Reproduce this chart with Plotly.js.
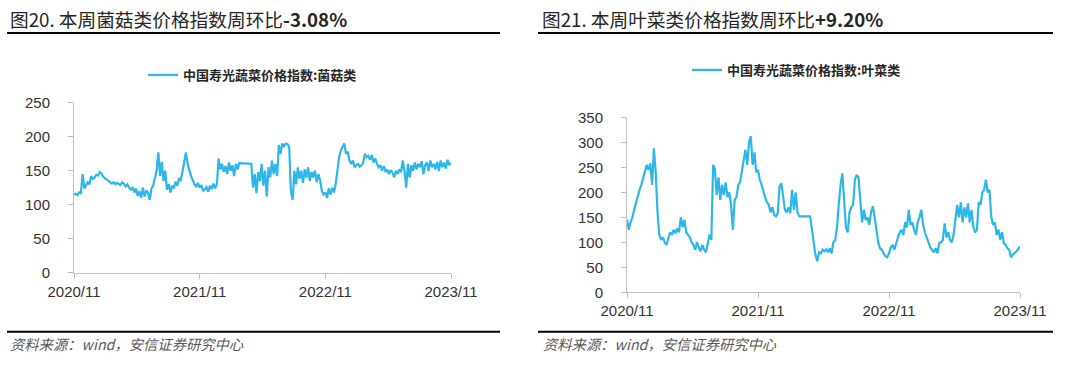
<!DOCTYPE html>
<html>
<head>
<meta charset="utf-8">
<script src="https://cdn.plot.ly/plotly-3.0.1.min.js"></script>
<style>
html,body{margin:0;padding:0;background:#fff;}
#chart{width:1080px;height:366px;}
</style>
</head>
<body>
<div id="chart"></div>
<script>
// ---- data ----
const startDate = '2020-11-01';
const stepDays = 5;
const mushroomValues = [
  115,116,114,118,117,145,124,128,133,130,
  142,138,140,144,143,148,146,141,139,136,
  134,133,131,133,130,132,131,129,133,131,
  127,130,125,122,126,118,124,113,120,110,
  125,112,121,118,107,124,128,140,150,177,
  142,163,135,150,122,130,118,128,124,134,
  128,138,136,148,160,177,160,150,142,136,
  130,127,132,125,129,120,124,126,119,128,
  123,131,124,130,168,152,160,148,157,145,
  162,150,158,142,160,152,161,161,161,161,
  161,161,161,160,125,145,117,148,135,160,
  128,150,112,155,140,165,145,160,142,188,
  175,190,186,190,189,185,120,107,150,130,
  155,138,150,132,152,140,155,135,148,140,
  150,133,145,136,120,115,118,110,124,115,
  125,118,130,150,170,180,185,190,175,178,
  165,160,165,155,158,160,156,158,162,175,
  170,172,166,173,162,168,160,155,158,150,
  157,148,152,145,151,147,140,150,145,152,
  148,165,150,125,160,140,158,150,162,152,
  160,155,164,145,158,162,150,165,155,160,
  152,163,150,165,155,162,153,166,158,162
];
const leafyValues = [
  145,125,140,150,165,180,190,205,215,230,
  240,255,245,258,215,288,240,160,115,105,
  110,100,95,108,120,115,125,118,128,120,
  150,130,145,120,115,110,100,95,85,100,
  90,82,95,85,80,100,115,105,255,245,
  195,230,185,215,195,220,190,200,175,125,
  185,190,215,220,245,270,285,255,300,312,
  255,280,240,245,225,215,200,190,180,175,
  160,170,155,152,158,212,218,195,165,160,
  170,158,205,165,200,160,152,152,152,152,
  152,152,152,128,105,75,62,80,78,85,
  82,86,80,88,78,100,104,130,175,215,
  238,170,130,120,160,170,175,225,235,230,
  175,140,165,145,150,135,160,172,150,120,
  100,88,85,78,72,70,78,90,95,85,
  100,110,120,125,115,140,130,165,135,140,
  125,115,140,150,165,135,120,110,98,90,
  85,80,88,78,98,100,105,138,110,120,
  105,100,115,150,175,150,180,140,170,150,
  178,140,165,130,120,125,180,175,200,205,
  225,200,205,150,135,140,115,125,105,120,
  98,95,88,85,70,75,78,82,86,92
];
const tickDates = ['2020-11-01','2021-11-01','2022-11-01','2023-11-01'];
const tickLabels = ['2020/11','2021/11','2022/11','2023/11'];
const mushroomName = '中国寿光蔬菜价格指数:菌菇类';
const leafyName = '中国寿光蔬菜价格指数:叶菜类';
const title1 = '图20. 本周菌菇类价格指数周环比';
const change1 = '-3.08%';
const title2 = '图21. 本周叶菜类价格指数周环比';
const change2 = '+9.20%';
const sourceText = '资料来源：wind，安信证券研究中心';

// ---- build dates ----
function buildDates(n){
  const out=[]; const base=new Date(startDate+'T00:00:00Z');
  for(let i=0;i<n;i++){
    const d=new Date(base.getTime()+i*stepDays*86400000);
    out.push(d.toISOString().slice(0,10));
  }
  return out;
}

const lineColor = '#2DB7E8';
const cjk = '"Noto Sans CJK SC", "Liberation Sans", sans-serif';
const num = '"Liberation Sans", Arial, sans-serif';

const traces = [
  {x: buildDates(mushroomValues.length), y: mushroomValues, type:'scatter', mode:'lines',
   name: mushroomName, line:{color:lineColor, width:2.2}, xaxis:'x', yaxis:'y', legend:'legend'},
  {x: buildDates(leafyValues.length), y: leafyValues, type:'scatter', mode:'lines',
   name: leafyName, line:{color:lineColor, width:2.2}, xaxis:'x2', yaxis:'y2', legend:'legend2'}
];

const W=1080, H=366;
const axisCommon = {
  showgrid:false, zeroline:false, showline:true, linecolor:'#bfbfbf', linewidth:1,
  ticks:'outside', ticklen:5, tickcolor:'#bfbfbf', tickwidth:1,
  tickfont:{family:num, size:15, color:'#333333'}
};

const layout = {
  width:W, height:H, margin:{l:0,r:0,t:0,b:0},
  paper_bgcolor:'#fff', plot_bgcolor:'#fff', showlegend:true,
  xaxis: Object.assign({}, axisCommon, {domain:[74/W, 451/W], type:'date',
    range:['2020-11-01','2023-11-01'], tickvals:tickDates, ticktext:tickLabels, anchor:'y'}),
  yaxis: Object.assign({}, axisCommon, {domain:[1-272.7/H, 1-102.7/H], range:[0,250], dtick:50, anchor:'x', ticklabelstandoff:15}),
  xaxis2: Object.assign({}, axisCommon, {domain:[627/W, 1020/W], type:'date',
    range:['2020-11-01','2023-11-01'], tickvals:tickDates, ticktext:tickLabels, anchor:'y2'}),
  yaxis2: Object.assign({}, axisCommon, {domain:[1-292.3/H, 1-117.3/H], range:[0,350], dtick:50, anchor:'x2', ticklabelstandoff:15}),
  legend: {x:143/W, y:1-60/H, xanchor:'left', yanchor:'top', bgcolor:'rgba(0,0,0,0)',
    font:{family:cjk, size:13, color:'#262626', weight:'bold'}},
  legend2: {x:687/W, y:1-55/H, xanchor:'left', yanchor:'top', bgcolor:'rgba(0,0,0,0)',
    font:{family:cjk, size:13, color:'#262626', weight:'bold'}},
  shapes: [
    {type:'line', xref:'paper', yref:'paper', x0:7/W, x1:500/W, y0:1-33/H, y1:1-33/H, line:{color:'#000', width:2}},
    {type:'line', xref:'paper', yref:'paper', x0:538/W, x1:1053/W, y0:1-33/H, y1:1-33/H, line:{color:'#000', width:2}},
    {type:'line', xref:'paper', yref:'paper', x0:7/W, x1:500/W, y0:1-331.7/H, y1:1-331.7/H, line:{color:'#000', width:2}},
    {type:'line', xref:'paper', yref:'paper', x0:538/W, x1:1053/W, y0:1-331.7/H, y1:1-331.7/H, line:{color:'#000', width:2}}
  ],
  annotations: [
    {xref:'paper', yref:'paper', x:8/W, y:1-19/H, xanchor:'left', yanchor:'middle', showarrow:false,
     text: title1 + '<b>' + change1 + '</b>', font:{family:cjk, size:18.7, color:'#262626'}},
    {xref:'paper', yref:'paper', x:540/W, y:1-19/H, xanchor:'left', yanchor:'middle', showarrow:false,
     text: title2 + '<b>' + change2 + '</b>', font:{family:cjk, size:18.7, color:'#262626'}},
    {xref:'paper', yref:'paper', x:8/W, y:1-343/H, xanchor:'left', yanchor:'middle', showarrow:false,
     text: '<i>' + sourceText + '</i>', font:{family:cjk, size:14.3, color:'#595959'}},
    {xref:'paper', yref:'paper', x:541/W, y:1-343/H, xanchor:'left', yanchor:'middle', showarrow:false,
     text: '<i>' + sourceText + '</i>', font:{family:cjk, size:14.3, color:'#595959'}}
  ]
};

Plotly.newPlot('chart', traces, layout, {staticPlot:true, displayModeBar:false});
</script>
</body>
</html>
